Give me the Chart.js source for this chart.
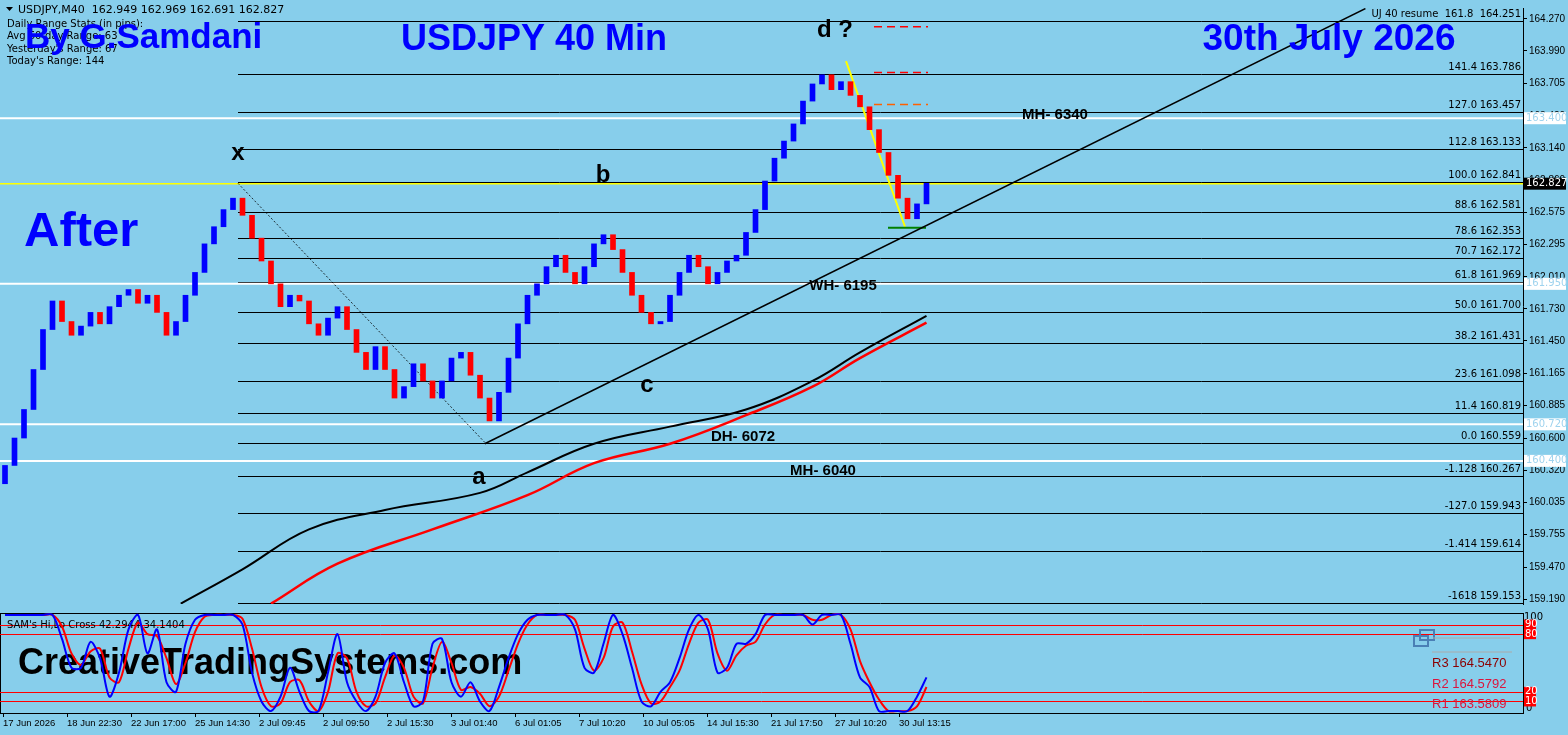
<!DOCTYPE html>
<html><head><meta charset="utf-8">
<script src="https://cdn.jsdelivr.net/npm/chart.js@4"></script>
<style>
html,body{margin:0;padding:0;background:#87CEEB;width:1568px;height:735px;overflow:hidden}
#a{position:absolute;left:0;top:0}
#b{position:absolute;left:0;top:612px}
</style></head><body>
<canvas id="a" width="1568" height="612"></canvas>
<canvas id="b" width="1568" height="123"></canvas>
<script>
const closes=[160.36,160.6,160.85,161.2,161.55,161.8,161.62,161.5,161.58,161.7,
161.6,161.75,161.85,161.9,161.78,161.85,161.7,161.5,161.62,161.85,
162.05,162.3,162.45,162.6,162.7,162.55,162.35,162.15,161.95,161.75,
161.85,161.8,161.6,161.5,161.65,161.75,161.55,161.35,161.2,161.4,
161.2,160.95,161.05,161.25,161.1,160.95,161.1,161.3,161.35,161.15,
160.95,160.75,161.0,161.3,161.6,161.85,161.95,162.1,162.2,162.05,
161.95,162.1,162.3,162.38,162.25,162.05,161.85,161.7,161.6,161.62,
161.85,162.05,162.2,162.1,161.95,162.05,162.15,162.2,162.4,162.6,
162.85,163.05,163.2,163.35,163.55,163.7,163.78,163.65,163.72,163.6,
163.5,163.3,163.1,162.9,162.7,162.52,162.65,162.83];
const firstOpen=160.2;
const maBlackX=[18.5,25,32,40,50,55,62,70,78,85,90,97];
const maBlackY=[159.15,159.45,159.8,159.97,160.12,160.3,160.55,160.7,160.85,161.1,161.35,161.67];
const maRedX=[28,35,45,55,62,70,78,85,90,97];
const maRedY=[159.15,159.5,159.8,160.1,160.38,160.55,160.8,161.05,161.3,161.61];
const trendX=[50.5,143.2];const trendY=[160.55,164.36];
const fibRatios=['161.8','141.4','127.0','112.8','100.0','88.6','78.6','70.7','61.8','50.0','38.2','23.6','11.4','0.0','-1.128','-127.0','-1.414','-1618'];
const fibPrices=[164.251,163.786,163.457,163.133,162.841,162.581,162.353,162.172,161.969,161.700,161.431,161.098,160.819,160.559,160.267,159.943,159.614,159.153];
const whiteLevels=[163.400,161.950,160.720,160.400];
const lastPrice=162.827;
const priceTicks=[164.270,163.990,163.705,163.420,163.140,162.860,162.575,162.295,162.010,161.730,161.450,161.165,160.885,160.600,160.320,160.035,159.755,159.470,159.190];
const oscBlue=[100,100,100,100,100,100,75,45,45,72,55,15,40,85,100,60,85,30,20,70,95,100,100,100,100,90,40,10,0,15,45,20,0,0,40,80,30,10,0,15,50,60,30,5,10,70,75,30,15,30,10,0,25,55,80,95,100,100,100,100,85,45,40,70,100,80,45,10,5,20,30,55,85,100,85,40,45,70,70,80,100,100,100,100,100,90,100,100,100,70,35,25,0,0,0,0,15,35];
const oscRed=[100,100,100,100,100,100,88,60,48,62,65,35,30,65,92,80,78,55,28,50,82,98,100,100,100,96,65,25,5,8,30,32,10,0,20,60,55,20,5,8,35,58,45,15,8,45,72,50,22,25,18,5,15,42,70,90,100,100,100,100,95,65,42,55,88,92,62,28,8,10,25,42,70,92,95,60,42,58,68,72,90,100,100,100,100,95,95,100,100,85,52,30,12,0,0,0,5,25];
const tickLabels=['17 Jun 2026','18 Jun 22:30','22 Jun 17:00','25 Jun 14:30','2 Jul 09:45','2 Jul 09:50','2 Jul 15:30','3 Jul 01:40','6 Jul 01:05','7 Jul 10:20','10 Jul 05:05','14 Jul 15:30','21 Jul 17:50','27 Jul 10:20','30 Jul 13:15'];

const SP=9.5, X0=5;
const xmin=-X0/SP, xmax=(1523-X0)/SP;
const pxToV=p=>(p-X0)/SP;
const opens=closes.map((c,i)=>i===0?firstOpen:closes[i-1]);
const candles=closes.map((c,i)=>({x:i,y:[opens[i],c]}));
const candleCol=closes.map((c,i)=>c>=opens[i]?'#0000ff':'#ff0000');
const F='"Liberation Sans", Arial, sans-serif';
const T='"DejaVu Sans", Tahoma, sans-serif';

const mainPlugin={id:'m',
beforeDatasetsDraw(ch){const c=ch.ctx,y=ch.scales.y,x=ch.scales.x,ca=ch.chartArea;
 const X=p=>x.getPixelForValue(pxToV(p));
 c.save();
 c.strokeStyle='#000';c.lineWidth=1;
 fibPrices.forEach((p,i)=>{const py=Math.round(y.getPixelForValue(p))+0.5;
  c.beginPath();c.moveTo(238,py);c.lineTo(ca.right,py);c.stroke();
  c.fillStyle='#000';c.font='10px '+T;c.textAlign='right';c.textBaseline='bottom';
  if(i>0){c.fillText(fibRatios[i],1477,py-2);c.fillText(fibPrices[i].toFixed(3),1521,py-2);}
 });
 c.textAlign='right';c.font='10px '+T;c.fillText('UJ 40 resume  161.8  164.251',1521,y.getPixelForValue(fibPrices[0])-2);
 c.strokeStyle='#fff';c.lineWidth=2;
 whiteLevels.forEach(p=>{const py=y.getPixelForValue(p);c.beginPath();c.moveTo(0,py);c.lineTo(ca.right,py);c.stroke();});
 let py=y.getPixelForValue(lastPrice);c.strokeStyle='#ffff00';c.lineWidth=1.5;c.beginPath();c.moveTo(0,py);c.lineTo(ca.right,py);c.stroke();
 c.strokeStyle='#000';c.lineWidth=0.8;c.setLineDash([2,2]);c.beginPath();
 c.moveTo(X(238),y.getPixelForValue(162.83));c.lineTo(X(485),y.getPixelForValue(160.56));c.stroke();c.setLineDash([]);
 c.strokeStyle='#ffff00';c.lineWidth=2;c.beginPath();
 c.moveTo(X(846),y.getPixelForValue(163.9));c.lineTo(X(905),y.getPixelForValue(162.45));c.stroke();
 c.strokeStyle='#008000';c.beginPath();c.moveTo(X(888),y.getPixelForValue(162.44));c.lineTo(X(926),y.getPixelForValue(162.44));c.stroke();
 [[164.20,'#ff0000'],[163.80,'#ff0000'],[163.52,'#ff6000']].forEach(([p,col])=>{c.strokeStyle=col;c.lineWidth=1.5;c.setLineDash([8,5]);
  const q=y.getPixelForValue(p);c.beginPath();c.moveTo(874,q);c.lineTo(928,q);c.stroke();});
 c.setLineDash([]);
 c.restore();},
afterDraw(ch){const c=ch.ctx,y=ch.scales.y;c.save();
 whiteLevels.forEach(p=>{const py=y.getPixelForValue(p);c.fillStyle='#fff';c.fillRect(1524,py-6,42,12);
  c.fillStyle='#9fd3ee';c.font='10px '+T;c.textAlign='left';c.textBaseline='middle';c.fillText(p.toFixed(3),1526,py);});
 let py=y.getPixelForValue(lastPrice);c.fillStyle='#000';c.fillRect(1524,py-6,42,12);c.fillStyle='#fff';c.font='10px '+T;c.textAlign='left';c.textBaseline='middle';c.fillText(lastPrice.toFixed(3),1526,py);
 c.textBaseline='alphabetic';c.textAlign='left';c.fillStyle='#000';c.font='11px '+T;
 c.beginPath();c.moveTo(6,7);c.lineTo(13,7);c.lineTo(9.5,11);c.fill();
 c.fillText('USDJPY,M40  162.949 162.969 162.691 162.827',18,13);
 c.font='10px '+T;
 ['Daily Range Stats (in pips):','Avg 60-day Range: 63',"Yesterday's Range: 67","Today's Range: 144"].forEach((t,i)=>c.fillText(t,7,27+i*12.3));
 c.fillStyle='#0000ff';c.font='bold 35px '+F;c.fillText('By G.Samdani',25,48);
 c.textAlign='center';c.font='bold 36px '+F;c.fillText('USDJPY 40 Min',534,50);c.font='bold 37px '+F;c.fillText('30th July 2026',1329,50);
 c.textAlign='left';c.font='bold 49px '+F;c.fillText('After',24,246);
 c.textAlign='center';c.fillStyle='#000';c.font='bold 24px '+F;
 [['x',238,160],['b',603,182],['c',647,392],['a',479,484],['d ?',835,37]].forEach(([t,x,yy])=>c.fillText(t,x,yy));
 c.font='bold 15px '+F;
 [['MH- 6340',1055,119],['WH- 6195',843,290],['DH- 6072',743,441],['MH- 6040',823,475]].forEach(([t,x,yy])=>c.fillText(t,x,yy));
 c.restore();}
};

new Chart(document.getElementById('a'),{
 data:{datasets:[
  {type:'bar',data:candles,backgroundColor:candleCol,barThickness:5,order:3},
  {type:'line',data:maBlackX.map((x,i)=>({x,y:maBlackY[i]})),borderColor:'#000',borderWidth:2,pointRadius:0,tension:0.4,order:2},
  {type:'line',data:maRedX.map((x,i)=>({x,y:maRedY[i]})),borderColor:'#ff0000',borderWidth:2.5,pointRadius:0,tension:0.4,order:2},
  {type:'line',data:trendX.map((x,i)=>({x,y:trendY[i]})),borderColor:'#000',borderWidth:1.5,pointRadius:0,order:1}
 ]},
 options:{responsive:false,animation:false,events:[],
  layout:{padding:{top:4,bottom:1,left:0,right:0}},
  plugins:{legend:{display:false},tooltip:{enabled:false}},
  scales:{
   x:{type:'linear',min:xmin,max:xmax,display:false,offset:false,grid:{offset:false}},
   y:{position:'right',min:159.147,max:164.365,
    afterFit(s){s.width=45},
    afterBuildTicks(s){s.ticks=priceTicks.map(v=>({value:v}))},
    ticks:{color:'#000',font:{size:10,family:F},padding:2,callback:v=>v.toFixed(3)},
    grid:{drawOnChartArea:false,drawTicks:true,tickLength:4,color:'#000'},
    border:{color:'#000',width:1}}
  }},
 plugins:[mainPlugin]
});

const oscPlugin={id:'o',
beforeDatasetsDraw(ch){const c=ch.ctx,y=ch.scales.y,ca=ch.chartArea;c.save();
 c.strokeStyle='#000';c.lineWidth=1;c.strokeRect(ca.left+0.5,ca.top+0.5,ca.right-ca.left,ca.bottom-ca.top);
 c.strokeStyle='#ff0000';[90,80,20,10].forEach(v=>{const py=Math.round(y.getPixelForValue(v))+0.5;c.beginPath();c.moveTo(ca.left,py);c.lineTo(ca.right,py);c.stroke();});
 c.fillStyle='#000';c.font='bold 36px '+F;c.textAlign='left';c.textBaseline='alphabetic';c.fillText('CreativeTradingSystems.com',18,62);
 c.font='10px '+T;c.fillText("SAM's Hi,Lo Cross 42.2944 34.1404",7,16);
 c.restore();},
afterDraw(ch){const c=ch.ctx,y=ch.scales.y;c.save();
 c.font='10px '+T;c.textBaseline='middle';c.textAlign='left';
 c.fillStyle='#000';c.fillText('100',1524,y.getPixelForValue(100)+2);c.fillText('0',1526,y.getPixelForValue(0)-3);
 [90,80,20,10].forEach(v=>{const py=y.getPixelForValue(v);c.fillStyle='#ff0000';c.fillRect(1524,py-5,12,10);c.fillStyle='#fff';c.fillText(String(v),1525,py);});
 c.strokeStyle='#4a7fb5';c.lineWidth=2;c.strokeRect(1420,18,14,10);c.strokeRect(1414,24,14,10);
 c.strokeStyle='#aaa';c.lineWidth=1;c.beginPath();c.moveTo(1433,26);c.lineTo(1510,26);c.moveTo(1432,40);c.lineTo(1512,40);c.stroke();
 c.font='13px '+F;c.textBaseline='alphabetic';
 c.fillStyle='#8b0000';c.fillText('R3 164.5470',1432,55);
 c.fillStyle='#dc143c';c.fillText('R2 164.5792',1432,76);c.fillText('R1 163.5809',1432,96);
 c.restore();}
};

const tickVals=tickLabels.map((t,k)=>pxToV(3+64*k));
new Chart(document.getElementById('b'),{
 data:{datasets:[
  {type:'line',data:oscBlue.map((v,i)=>({x:i,y:v})),borderColor:'#0000ff',borderWidth:2,pointRadius:0,tension:0.3},
  {type:'line',data:oscRed.map((v,i)=>({x:i,y:v})),borderColor:'#ff0000',borderWidth:2,pointRadius:0,tension:0.3}
 ]},
 options:{responsive:false,animation:false,events:[],
  layout:{padding:{top:1,bottom:0,left:0,right:0}},
  plugins:{legend:{display:false},tooltip:{enabled:false}},
  scales:{
   x:{type:'linear',min:xmin,max:xmax,
    afterFit(s){s.height=22},
    afterBuildTicks(s){s.ticks=tickVals.map(v=>({value:v}))},
    ticks:{color:'#000',font:{size:9.5,family:F},maxRotation:0,autoSkip:false,align:'start',padding:1,
     callback:(v,i)=>tickLabels[i]},
    grid:{drawOnChartArea:false,drawTicks:true,tickLength:4,color:'#000'},
    border:{color:'#000'}},
   y:{position:'right',min:-2,max:102,afterFit(s){s.width=45},ticks:{display:false},grid:{display:false},border:{color:'#000'}}
  }},
 plugins:[oscPlugin]
});
</script></body></html>
